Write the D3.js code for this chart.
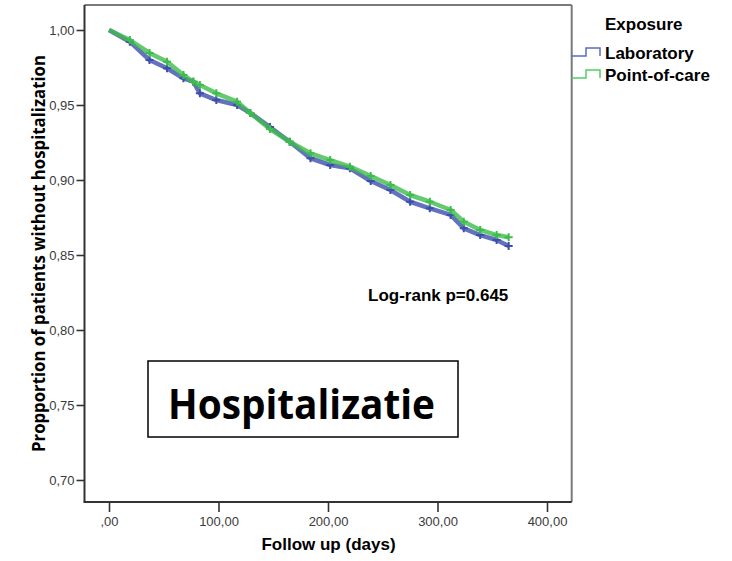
<!DOCTYPE html>
<html><head><meta charset="utf-8">
<script src="https://cdn.jsdelivr.net/npm/d3@7"></script>
<style>body{margin:0;background:#fff} svg{display:block}</style>
</head><body>
<svg id="c" width="732" height="561"></svg>
<script>
// ---- data ----
const days        = [0, 19, 37, 53, 68, 77, 83, 98, 117, 129, 147, 165, 184, 202, 220, 239, 257, 275, 293, 312, 324, 339, 354, 365];
const laboratory  = [1.000, 0.9922, 0.980, 0.9745, 0.9678, 0.9655, 0.9578, 0.9533, 0.950, 0.9447, 0.9353, 0.9255, 0.9145, 0.910, 0.9078, 0.8993, 0.8933, 0.8855, 0.8811, 0.8767, 0.8678, 0.8633, 0.860, 0.856];
const pointOfCare = [1.000, 0.9933, 0.9847, 0.9789, 0.970, 0.9655, 0.9633, 0.9578, 0.9522, 0.9447, 0.9340, 0.9255, 0.9178, 0.9133, 0.9089, 0.9027, 0.8967, 0.890, 0.8855, 0.880, 0.8722, 0.8667, 0.8633, 0.8618];
const seriesNames = ["Laboratory", "Point-of-care"];
const xTicks = [0, 100, 200, 300, 400];
const yTicks = [0.70, 0.75, 0.80, 0.85, 0.90, 0.95, 1.00];
const legendTitle = "Exposure";
const xTitle = "Follow up (days)";
const yTitle = "Propportion of patients without hospitalization";
const annotation = "Log-rank p=0.645";
const boxLabel = "Hospitalizatie";

// ---- layout ----
const colors = ["#3d4eae", "#3dbd4b"];
const legendColors = ["#5a6cc4", "#52cf62"];
const frame = {left: 84.5, top: 5, right: 571.7, bottom: 502};
const svg = d3.select("#c");
const x = d3.scaleLinear().domain([0, 400]).range([109, 547]);
const y = d3.scaleLinear().domain([0.70, 1.00]).range([480, 30]);
const font = "'Liberation Sans', Arial, sans-serif";

// frame (top/right grey)
svg.append("line").attr("x1", frame.left).attr("x2", frame.right).attr("y1", frame.top).attr("y2", frame.top)
  .attr("stroke", "#7a7a7a").attr("stroke-width", 2);
svg.append("line").attr("x1", frame.right).attr("x2", frame.right).attr("y1", frame.top).attr("y2", frame.bottom)
  .attr("stroke", "#7a7a7a").attr("stroke-width", 2);

// axes
const yAxis = svg.append("g").attr("transform", `translate(${frame.left},0)`)
  .call(d3.axisLeft(y).tickValues(yTicks).tickSize(8).tickPadding(2)
    .tickFormat(d => d3.format(".2f")(d).replace(".", ",")));
yAxis.select(".domain").remove();
const xAxis = svg.append("g").attr("transform", `translate(0,${frame.bottom})`)
  .call(d3.axisBottom(x).tickValues(xTicks).tickSize(10).tickPadding(5)
    .tickFormat(d => (d === 0 ? "" : d) + ",00"));
xAxis.select(".domain").remove();
[yAxis, xAxis].forEach(a => {
  a.selectAll(".tick line").attr("stroke", "#333").attr("stroke-width", 1.6);
  a.selectAll(".tick text").attr("fill", "#3a3a3a").style("font-family", font).style("font-size", "13px");
});
svg.append("line").attr("x1", frame.left).attr("x2", frame.left).attr("y1", frame.top).attr("y2", frame.bottom)
  .attr("stroke", "#333").attr("stroke-width", 2);
svg.append("line").attr("x1", frame.left - 1).attr("x2", frame.right).attr("y1", frame.bottom).attr("y2", frame.bottom)
  .attr("stroke", "#333").attr("stroke-width", 2);

// curves
const series = [laboratory, pointOfCare];
const line = d3.line().x((d, i) => x(days[i])).y(d => y(d)).curve(d3.curveLinear);
series.forEach((vals, s) => {
  const g = svg.append("g");
  g.append("path").datum(vals).attr("d", line).attr("fill", "none")
    .attr("stroke", colors[s]).attr("stroke-width", 4.5).attr("stroke-opacity", 0.8)
    .attr("stroke-linejoin", "round");
  const m = 4;
  g.selectAll("path.cens").data(vals.slice(1)).join("path").attr("class", "cens")
    .attr("d", (d, i) => {
      const cx = x(days[i + 1]), cy = y(d);
      return `M${cx - m},${cy}H${cx + m}M${cx},${cy - m}V${cy + m}`;
    })
    .attr("stroke", colors[s]).attr("stroke-width", 2).attr("fill", "none");
});

// legend
svg.append("text").attr("x", 605).attr("y", 30).text(legendTitle)
  .style("font-family", font).style("font-weight", "bold").style("font-size", "17px");
seriesNames.forEach((n, i) => {
  const by = 56 + i * 22;
  svg.append("path").attr("d", `M${frame.right},${by}H586V${by - 8}H600V${by}`)
    .attr("fill", "none").attr("stroke", legendColors[i]).attr("stroke-width", 1.5);
  svg.append("text").attr("x", 605).attr("y", by + 3).text(n)
    .style("font-family", font).style("font-weight", "bold").style("font-size", "17px");
});

// axis titles
svg.append("text").attr("x", 328.5).attr("y", 550).attr("text-anchor", "middle").text(xTitle)
  .style("font-family", font).style("font-weight", "bold").style("font-size", "17px");
svg.append("text").attr("transform", "translate(45,253.5) rotate(-90)").attr("text-anchor", "middle")
  .attr("textLength", 397).attr("lengthAdjust", "spacingAndGlyphs").text(yTitle)
  .style("font-family", "'Open Sans', sans-serif").style("font-weight", "bold").style("font-size", "17px");

// annotation
svg.append("text").attr("x", 368).attr("y", 301).text(annotation)
  .style("font-family", font).style("font-weight", "bold").style("font-size", "17px");

// boxed label
svg.append("rect").attr("x", 148).attr("y", 361).attr("width", 310).attr("height", 76)
  .attr("fill", "none").attr("stroke", "#000").attr("stroke-width", 1.5);
svg.append("text").attr("x", 301.5).attr("y", 419).attr("text-anchor", "middle")
  .attr("textLength", 267).attr("lengthAdjust", "spacingAndGlyphs").text(boxLabel)
  .style("font-family", "'Open Sans', sans-serif").style("font-weight", "bold").style("font-size", "41px");
</script>
</body></html>
